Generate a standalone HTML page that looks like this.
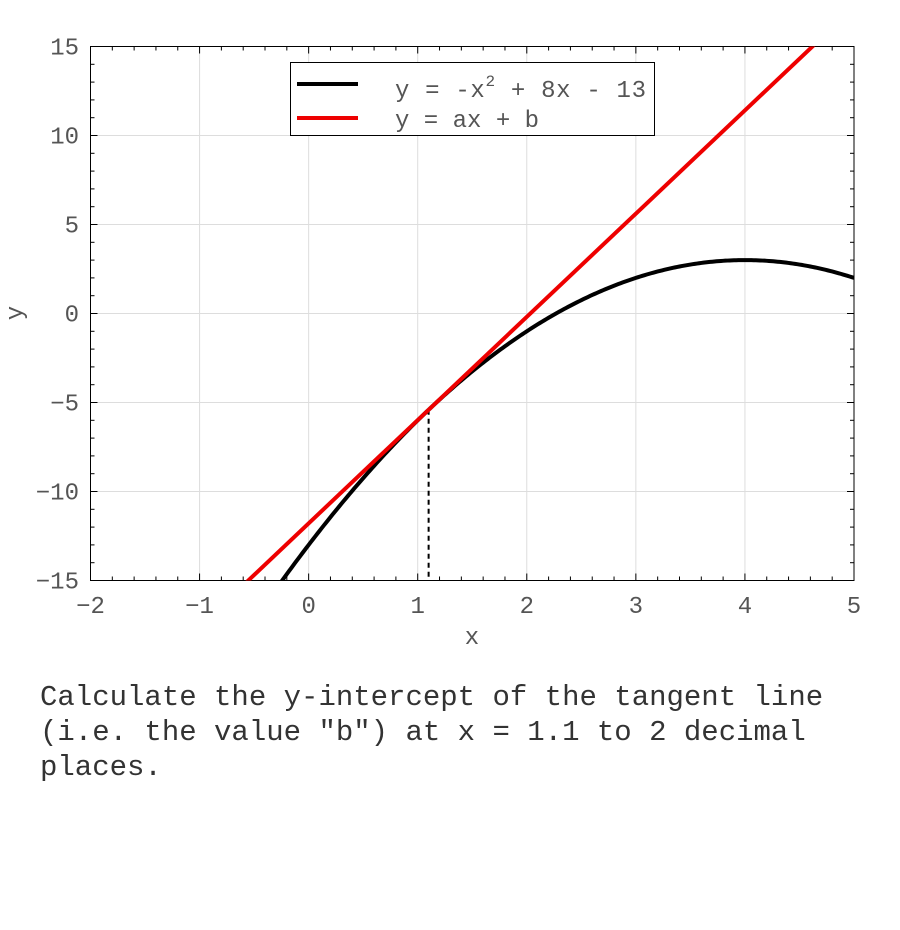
<!DOCTYPE html>
<html><head><style>
body{margin:0;background:#fff;width:900px;height:930px;overflow:hidden}
svg text{font-family:"Liberation Mono",monospace;fill:#555}
.q{position:absolute;left:40px;top:680px;font-family:"Liberation Mono",monospace;font-size:29px;line-height:35px;color:#333;white-space:pre}
</style></head><body>
<svg id="s" width="900" height="930" style="position:absolute;left:0;top:0"></svg>
<div class="q">Calculate the y-intercept of the tangent line
(i.e. the value "b") at x = 1.1 to 2 decimal
places.</div>
<script>
const L=90.5,R=854,T=46.5,B=580.5;
const X=x=>L+(x+2)*(R-L)/7, Y=y=>B-(y+15)*(B-T)/30;
let h='';
for(let i=-2;i<=5;i++){h+=`<line x1="${X(i)}" x2="${X(i)}" y1="${T}" y2="${B}" stroke="#ddd"/>`;}
for(let j=-15;j<=15;j+=5){h+=`<line x1="${L}" x2="${R}" y1="${Y(j)}" y2="${Y(j)}" stroke="#ddd"/>`;}
for(let k=-10;k<=25;k++){let x=X(k/5);let l=k%5==0?7:4;
 h+=`<line x1="${x}" x2="${x}" y1="${B}" y2="${B-l}" stroke="#000"/><line x1="${x}" x2="${x}" y1="${T}" y2="${T+l}" stroke="#000"/>`;}
for(let j=-15;j<=15;j++){let y=Y(j);let l=j%5==0?7:4;
 h+=`<line x1="${L}" x2="${L+l}" y1="${y}" y2="${y}" stroke="#000"/><line x1="${R}" x2="${R-l}" y1="${y}" y2="${y}" stroke="#000"/>`;}
h+=`<rect x="${L}" y="${T}" width="${R-L}" height="${B-T}" fill="none" stroke="#000"/>`;
for(let i=-2;i<=5;i++){h+=`<text x="${X(i)}" y="613" font-size="24" text-anchor="middle">${i<0?'−'+(-i):i}</text>`;}
for(let j=-15;j<=15;j+=5){h+=`<text x="79" y="${Y(j)+8}" font-size="24" text-anchor="end">${j<0?'−'+(-j):j}</text>`;}
h+=`<text x="472" y="644" font-size="24" text-anchor="middle">x</text>`;
h+=`<text x="22" y="313" font-size="24" text-anchor="middle" transform="rotate(-90 22 313)">y</text>`;
h+=`<defs><clipPath id="c"><rect x="${L}" y="${T}" width="${R-L}" height="${B-T}"/></clipPath></defs>`;
let p='';for(let x=-0.3;x<=5.001;x+=0.02){let y=-x*x+8*x-13;p+=(p?'L':'M')+X(x).toFixed(2)+','+Y(y).toFixed(2);}
h+=`<line x1="${X(1.1)}" x2="${X(1.1)}" y1="${Y(-5.41)}" y2="${B}" stroke="#000" stroke-width="2" stroke-dasharray="5,4"/>`;
h+=`<g clip-path="url(#c)"><path d="${p}" fill="none" stroke="#000" stroke-width="4"/>`;
h+=`<line x1="${X(-1)}" y1="${Y(5.8*-1-11.79)}" x2="${X(5)}" y2="${Y(5.8*5-11.79)}" stroke="#e00" stroke-width="4"/></g>`;
h+=`<rect x="290.5" y="62.5" width="364" height="73" fill="#fff" stroke="#000"/>`;
h+=`<line x1="297" x2="358" y1="84" y2="84" stroke="#000" stroke-width="4"/><line x1="297" x2="358" y1="118" y2="118" stroke="#e00" stroke-width="4"/>`;
h+=`<text x="395" y="97" font-size="24" textLength="251">y = -x<tspan dy="-11" font-size="16">2</tspan><tspan dy="11"> + 8x - 13</tspan></text>`;
h+=`<text x="395" y="127" font-size="24">y = ax + b</text>`;
document.getElementById('s').innerHTML=h;
</script>
</body></html>
